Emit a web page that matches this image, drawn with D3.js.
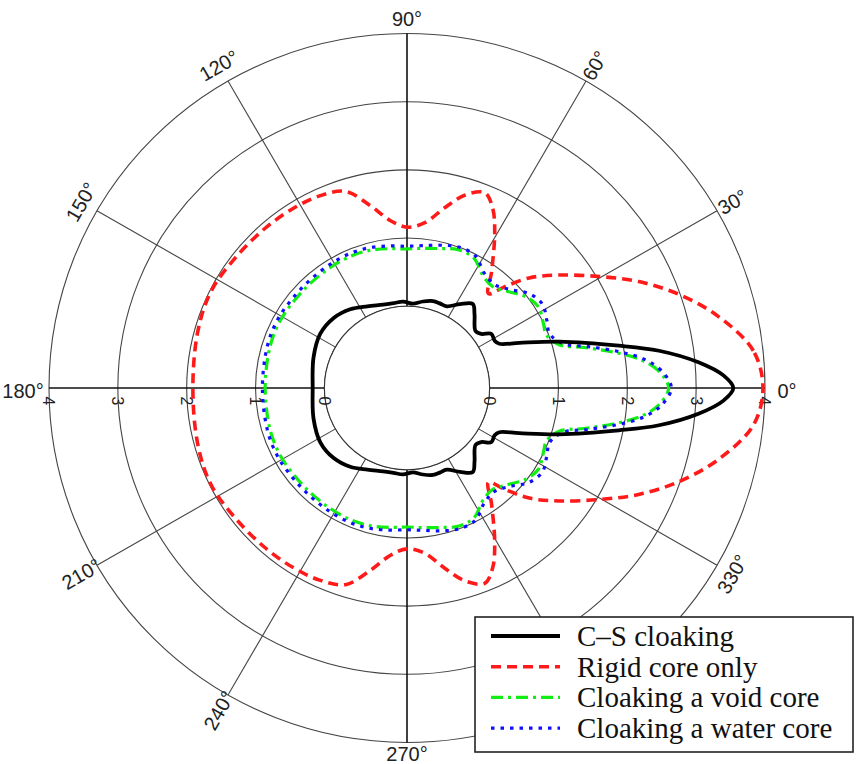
<!DOCTYPE html>
<html>
<head>
<meta charset="utf-8">
<script src="https://cdn.jsdelivr.net/npm/d3@7"></script>
<style>
  html, body { margin: 0; padding: 0; background: #fff; }
  svg { display: block; }
</style>
</head>
<body>
<svg id="chart" width="856" height="764"></svg>
<script>
// Far-field pattern, upper half (0°..180°); the pattern is symmetric about the 0°–180° axis.
const csAngles = [0, 2.3, 5.1, 8.5, 11.4, 17.1, 22.1, 25.8, 28.6, 33, 36.3, 40, 47.8, 52.2, 58, 64.3, 69, 73.5, 79.7, 86, 92.6, 99, 105.8, 115.7, 125.5, 136, 147.7, 161.7, 180];
const csValues = [3.54, 3.40, 3.05, 2.50, 1.94, 1.11, 0.56, 0.29, 0.25, 0.26, 0.14, 0.10, 0.26, 0.36, 0.25, 0.13, 0.13, 0.13, 0.09, 0.04, 0.07, 0.06, 0.07, 0.13, 0.22, 0.28, 0.29, 0.23, 0.17];

const rigidAngles = [0, 6.2, 13.1, 19.2, 24.9, 30.3, 36.9, 42.3, 46.4, 49.5, 54.2, 60.9, 64.8, 68.5, 73.5, 78.3, 83.9, 90, 95.7, 101.3, 107.2, 114, 121.5, 131, 142.3, 153.5, 164.6, 180];
const rigidValues = [3.97, 3.86, 3.44, 2.98, 2.51, 2.04, 1.56, 1.20, 0.85, 0.62, 0.90, 1.42, 1.72, 1.88, 1.75, 1.50, 1.24, 1.16, 1.27, 1.53, 1.82, 1.89, 1.91, 1.92, 1.94, 1.98, 1.95, 1.91];

const voidAngles = [0, 4, 7, 10, 13, 16, 21, 26, 32, 38, 44, 50, 56, 63, 70, 77, 84, 90, 97, 105, 113, 122, 132, 142, 152, 163, 180];
const voidValues = [2.60, 2.46, 2.22, 1.84, 1.44, 1.10, 0.97, 1.00, 1.05, 0.98, 0.84, 0.74, 0.78, 0.94, 0.96, 0.90, 0.86, 0.84, 0.86, 0.89, 0.90, 0.89, 0.88, 0.88, 0.89, 0.88, 0.86];

const waterAngles = [0, 4, 7, 10, 13, 16, 21, 26, 32, 38, 44, 50, 56, 63, 70, 77, 84, 90, 97, 105, 113, 122, 132, 142, 152, 163, 180];
const waterValues = [2.64, 2.50, 2.27, 1.90, 1.50, 1.16, 1.02, 1.06, 1.12, 1.05, 0.88, 0.78, 0.82, 0.98, 1.00, 0.95, 0.90, 0.88, 0.90, 0.93, 0.94, 0.93, 0.92, 0.92, 0.93, 0.92, 0.90];

const ringTicks = [0, 1, 2, 3, 4];
const spokeAngles = [0, 30, 60, 90, 120, 150, 180, 210, 240, 270, 300, 330];
const angleLabels = ["0°", "30°", "60°", "90°", "120°", "150°", "180°", "210°", "240°", "270°", "300°", "330°"];

const legendLabels = ["C–S cloaking", "Rigid core only", "Cloaking a void core", "Cloaking a water core"];

const cx = 407, cy = 388;
const svg = d3.select("#chart");

// radial scale: rho from -1.2 (centre) to 4 (outer ring)
const r = d3.scaleLinear().domain([-1.2, 4]).range([0, 358]);

const plot = svg.append("g").attr("transform", `translate(${cx},${cy}) scale(1,0.99)`);

// Rings
plot.append("g").selectAll("circle").data(ringTicks).join("circle")
  .attr("r", d => r(d)).attr("fill", "none")
  .attr("stroke", "#444").attr("stroke-width", 1.1);

// Spokes from the inner disk to the outer ring
plot.append("g").selectAll("line").data(spokeAngles).join("line")
  .attr("x1", d => r(0) * Math.cos(d * Math.PI / 180))
  .attr("y1", d => -r(0) * Math.sin(d * Math.PI / 180))
  .attr("x2", d => r(4) * Math.cos(d * Math.PI / 180))
  .attr("y2", d => -r(4) * Math.sin(d * Math.PI / 180))
  .attr("stroke", d => d % 90 === 0 ? "#111" : "#444")
  .attr("stroke-width", d => d % 90 === 0 ? 1.6 : 1.1);

// inner disk
plot.append("circle").attr("r", r(0)).attr("fill", "#fff").attr("stroke", "#333").attr("stroke-width", 1.1);

// radial tick labels along the horizontal axis, rotated
const rl = plot.append("g").attr("font-family", "Liberation Sans, Arial, sans-serif").attr("font-size", 16).attr("fill", "#222");
ringTicks.forEach(t => {
  [1, -1].forEach(side => {
    rl.append("text")
      .attr("transform", `translate(${side * r(t)},${13}) rotate(90)`)
      .attr("text-anchor", "middle").attr("dominant-baseline", "central")
      .text(t);
  });
});

// Series
const toRad = d => d * Math.PI / 180;
function fullLoop(angles, values) {
  const pts = angles.map((a, i) => [a, values[i]]);
  const lower = angles.slice(1, -1).map((a, i) => [360 - a, values[i + 1]]).reverse();
  return pts.concat(lower);
}
const radial = d3.lineRadial()
  .angle(d => Math.PI / 2 - toRad(d[0]))
  .radius(d => r(d[1]))
  .curve(d3.curveCatmullRomClosed.alpha(0.5));

const series = [
  { a: rigidAngles, v: rigidValues, color: "#ff1a1a", width: 3.6, dash: "10,6" },
  { a: voidAngles, v: voidValues, color: "#11ee11", width: 3.2, dash: "12,5,3,5" },
  { a: waterAngles, v: waterValues, color: "#1010ff", width: 3.2, dash: "3.5,6" },
  { a: csAngles, v: csValues, color: "#000", width: 3.8, dash: null }
];
series.forEach(s => {
  plot.append("path").datum(fullLoop(s.a, s.v))
    .attr("d", radial).attr("fill", "none")
    .attr("stroke", s.color).attr("stroke-width", s.width)
    .attr("stroke-dasharray", s.dash);
});

// Angle labels
const al = svg.append("g").attr("font-family", "Liberation Sans, Arial, sans-serif").attr("font-size", 20).attr("fill", "#222");
const labelRot = { 0: 0, 30: -30, 60: -60, 90: 0, 120: -30, 150: -60, 180: 0, 210: -30, 240: -60, 270: 0, 300: -60, 330: -60 };
const labelGap = { 0: 22, 30: 18, 60: 18, 90: 15, 120: 18, 150: 18, 180: 26, 210: 18, 240: 18, 270: 12, 300: 18, 330: 18 };
const labelDy = { 0: 3, 180: 3 };
spokeAngles.forEach((a, i) => {
  const rr = r(4) + labelGap[a];
  const x = cx + rr * Math.cos(toRad(a));
  const y = cy - rr * 0.99 * Math.sin(toRad(a)) + (labelDy[a] || 0);
  al.append("text")
    .attr("transform", `translate(${x},${y}) rotate(${labelRot[a]})`)
    .attr("text-anchor", "middle").attr("dominant-baseline", "central")
    .text(angleLabels[i]);
});

// Legend
const lg = svg.append("g");
lg.append("rect").attr("x", 475).attr("y", 617).attr("width", 378).attr("height", 135)
  .attr("fill", "#fff").attr("stroke", "#222").attr("stroke-width", 1.6);
const legendSeries = [series[3], series[0], series[1], series[2]];
legendLabels.forEach((lab, i) => {
  const y = 636 + i * 30.7;
  lg.append("line").attr("x1", 491).attr("x2", 560).attr("y1", y).attr("y2", y)
    .attr("stroke", legendSeries[i].color).attr("stroke-width", legendSeries[i].width)
    .attr("stroke-dasharray", legendSeries[i].dash);
  lg.append("text").attr("x", 577).attr("y", y + 10)
    .attr("font-family", "Liberation Serif, Times New Roman, serif").attr("font-size", 29)
    .attr("fill", "#111").text(lab);
});
</script>
</body>
</html>
